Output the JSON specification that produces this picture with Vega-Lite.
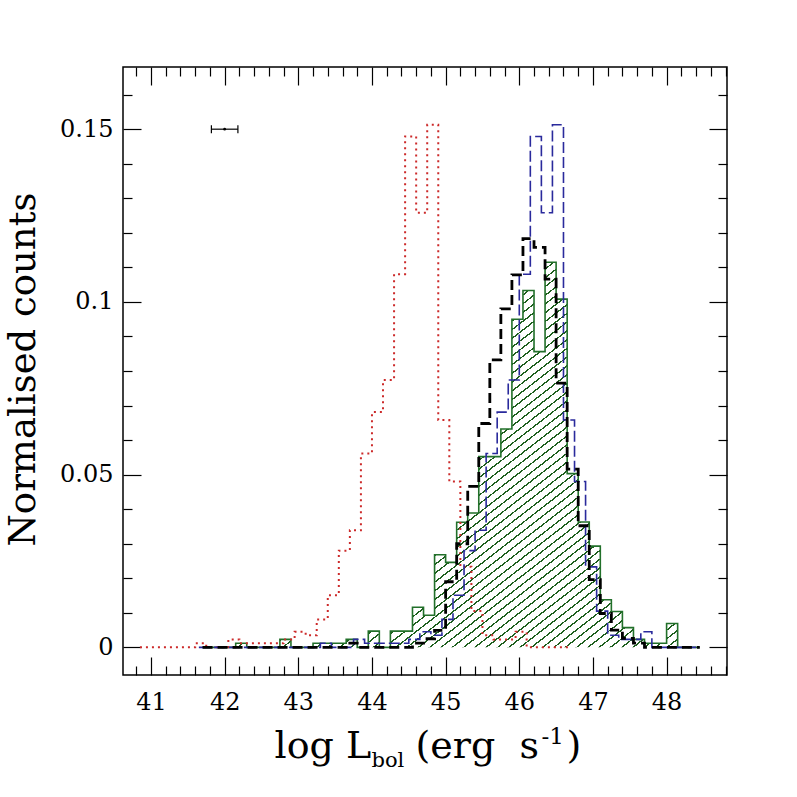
{
  "$schema": "https://vega.github.io/schema/vega-lite/v6.json",
  "width": 604,
  "height": 608,
  "autosize": "none",
  "padding": {"left": 123, "top": 67, "right": 70, "bottom": 122},
  "background": "white",
  "config": {
    "view": {"stroke": "black", "strokeWidth": 1.5},
    "axis": {"domain": false, "grid": false, "labelFont": "DejaVu Serif", "titleFont": "DejaVu Serif", "labelColor": "black", "titleColor": "black", "titleFontWeight": "normal", "tickColor": "black", "tickWidth": 1.2, "labelFlush": false, "labelOverlap": false}
  },
  "resolve": {"axis": {"x": "independent", "y": "independent"}},
  "datasets": {
    "green": [
      {"x": 41.70, "y": 0}, {"x": 41.85, "y": 0}, {"x": 42.00, "y": 0}, {"x": 42.15, "y": 0.0012}, {"x": 42.30, "y": 0}, {"x": 42.45, "y": 0}, {"x": 42.60, "y": 0}, {"x": 42.75, "y": 0.0023}, {"x": 42.90, "y": 0}, {"x": 43.05, "y": 0},
      {"x": 43.20, "y": 0.0012}, {"x": 43.35, "y": 0.0012}, {"x": 43.50, "y": 0.0012}, {"x": 43.65, "y": 0.0023}, {"x": 43.80, "y": 0}, {"x": 43.95, "y": 0.0047}, {"x": 44.10, "y": 0}, {"x": 44.25, "y": 0.0047}, {"x": 44.40, "y": 0.0047}, {"x": 44.55, "y": 0.0116},
      {"x": 44.70, "y": 0.0093}, {"x": 44.85, "y": 0.0268}, {"x": 45.00, "y": 0.0246}, {"x": 45.15, "y": 0.0362}, {"x": 45.30, "y": 0.0389}, {"x": 45.45, "y": 0.0552}, {"x": 45.60, "y": 0.0552}, {"x": 45.75, "y": 0.0632}, {"x": 45.90, "y": 0.0950}, {"x": 46.05, "y": 0.1033},
      {"x": 46.20, "y": 0.0856}, {"x": 46.35, "y": 0.1115}, {"x": 46.50, "y": 0.1008}, {"x": 46.65, "y": 0.0503}, {"x": 46.80, "y": 0.0363}, {"x": 46.95, "y": 0.0293}, {"x": 47.10, "y": 0.0138}, {"x": 47.25, "y": 0.0104}, {"x": 47.40, "y": 0.0057}, {"x": 47.55, "y": 0.0023},
      {"x": 47.70, "y": 0.0012}, {"x": 47.85, "y": 0.0012}, {"x": 48.00, "y": 0.0069}, {"x": 48.15, "y": 0}, {"x": 48.30, "y": 0}, {"x": 48.45, "y": 0}
    ],
    "black": [
      {"x": 41.70, "y": 0}, {"x": 41.85, "y": 0}, {"x": 42.00, "y": 0}, {"x": 42.15, "y": 0}, {"x": 42.30, "y": 0}, {"x": 42.45, "y": 0}, {"x": 42.60, "y": 0}, {"x": 42.75, "y": 0}, {"x": 42.90, "y": 0}, {"x": 43.05, "y": 0},
      {"x": 43.20, "y": 0}, {"x": 43.35, "y": 0}, {"x": 43.50, "y": 0}, {"x": 43.65, "y": 0.0012}, {"x": 43.80, "y": 0}, {"x": 43.95, "y": 0}, {"x": 44.10, "y": 0}, {"x": 44.25, "y": 0}, {"x": 44.40, "y": 0}, {"x": 44.55, "y": 0.0012},
      {"x": 44.70, "y": 0.0025}, {"x": 44.85, "y": 0.0049}, {"x": 45.00, "y": 0.0190}, {"x": 45.15, "y": 0.0300}, {"x": 45.30, "y": 0.0466}, {"x": 45.45, "y": 0.0648}, {"x": 45.60, "y": 0.0832}, {"x": 45.75, "y": 0.0980}, {"x": 45.90, "y": 0.1078}, {"x": 46.05, "y": 0.1183},
      {"x": 46.20, "y": 0.1158}, {"x": 46.35, "y": 0.1066}, {"x": 46.50, "y": 0.0765}, {"x": 46.65, "y": 0.0516}, {"x": 46.80, "y": 0.0352}, {"x": 46.95, "y": 0.0196}, {"x": 47.10, "y": 0.0098}, {"x": 47.25, "y": 0.0050}, {"x": 47.40, "y": 0.0026}, {"x": 47.55, "y": 0.0012},
      {"x": 47.70, "y": 0}, {"x": 47.85, "y": 0}, {"x": 48.00, "y": 0}, {"x": 48.15, "y": 0}, {"x": 48.30, "y": 0}, {"x": 48.45, "y": 0}
    ],
    "blue": [
      {"x": 41.65, "y": 0}, {"x": 41.80, "y": 0}, {"x": 41.95, "y": 0}, {"x": 42.10, "y": 0}, {"x": 42.25, "y": 0}, {"x": 42.40, "y": 0}, {"x": 42.55, "y": 0}, {"x": 42.70, "y": 0}, {"x": 42.85, "y": 0}, {"x": 43.00, "y": 0},
      {"x": 43.15, "y": 0}, {"x": 43.30, "y": 0.0012}, {"x": 43.45, "y": 0}, {"x": 43.60, "y": 0}, {"x": 43.75, "y": 0.0023}, {"x": 43.90, "y": 0.0012}, {"x": 44.05, "y": 0.0012}, {"x": 44.20, "y": 0.0012}, {"x": 44.35, "y": 0.0012}, {"x": 44.50, "y": 0.0023},
      {"x": 44.65, "y": 0.0045}, {"x": 44.80, "y": 0.0035}, {"x": 44.95, "y": 0.0081}, {"x": 45.10, "y": 0.0151}, {"x": 45.25, "y": 0.0280}, {"x": 45.40, "y": 0.0339}, {"x": 45.55, "y": 0.0561}, {"x": 45.70, "y": 0.0681}, {"x": 45.85, "y": 0.0774}, {"x": 46.00, "y": 0.1080},
      {"x": 46.15, "y": 0.1479}, {"x": 46.30, "y": 0.1258}, {"x": 46.45, "y": 0.1513}, {"x": 46.60, "y": 0.0658}, {"x": 46.75, "y": 0.0480}, {"x": 46.90, "y": 0.0233}, {"x": 47.05, "y": 0.0105}, {"x": 47.20, "y": 0.0035}, {"x": 47.35, "y": 0.0023}, {"x": 47.50, "y": 0.0023},
      {"x": 47.65, "y": 0.0045}, {"x": 47.80, "y": 0}, {"x": 47.95, "y": 0}, {"x": 48.10, "y": 0}, {"x": 48.25, "y": 0}, {"x": 48.40, "y": 0}
    ],
    "red": [
      {"x": 40.85, "y": 0}, {"x": 41.00, "y": 0}, {"x": 41.15, "y": 0}, {"x": 41.30, "y": 0},
      {"x": 41.45, "y": 0}, {"x": 41.60, "y": 0.0012}, {"x": 41.75, "y": 0}, {"x": 41.90, "y": 0}, {"x": 42.05, "y": 0.0023}, {"x": 42.20, "y": 0.0012}, {"x": 42.35, "y": 0.0012}, {"x": 42.50, "y": 0.0012}, {"x": 42.65, "y": 0.0012}, {"x": 42.80, "y": 0.0023},
      {"x": 42.95, "y": 0.0045}, {"x": 43.10, "y": 0.0035}, {"x": 43.25, "y": 0.0081}, {"x": 43.40, "y": 0.0151}, {"x": 43.55, "y": 0.0280}, {"x": 43.70, "y": 0.0339}, {"x": 43.85, "y": 0.0561}, {"x": 44.00, "y": 0.0681}, {"x": 44.15, "y": 0.0774}, {"x": 44.30, "y": 0.1080},
      {"x": 44.45, "y": 0.1479}, {"x": 44.60, "y": 0.1258}, {"x": 44.75, "y": 0.1513}, {"x": 44.90, "y": 0.0658}, {"x": 45.05, "y": 0.0480}, {"x": 45.20, "y": 0.0233}, {"x": 45.35, "y": 0.0105}, {"x": 45.50, "y": 0.0035}, {"x": 45.65, "y": 0.0023}, {"x": 45.80, "y": 0.0023},
      {"x": 45.95, "y": 0.0045}, {"x": 46.10, "y": 0}, {"x": 46.25, "y": 0}, {"x": 46.40, "y": 0}, {"x": 46.55, "y": 0}, {"x": 46.70, "y": 0}
    ],
    "err": [{"x": 42.0, "lo": 41.82, "hi": 42.18, "y": 0.15}]
  },
  "layer": [
    {
      "data": {"name": "green"},
      "mark": {"type": "area", "interpolate": "step-after", "clip": true, "fillOpacity": 1,
        "fill": {"gradient": "linear", "x1": 0, "y1": 0, "x2": 1, "y2": 1, "stops": [
          {"offset": 0, "color": "white"},
          {"offset": 0.0114, "color": "white"}, {"offset": 0.0114, "color": "#1e5f1e"}, {"offset": 0.0136, "color": "#1e5f1e"}, {"offset": 0.0136, "color": "white"},
          {"offset": 0.0227, "color": "white"}, {"offset": 0.0227, "color": "#1e5f1e"}, {"offset": 0.0249, "color": "#1e5f1e"}, {"offset": 0.0249, "color": "white"},
          {"offset": 0.0341, "color": "white"}, {"offset": 0.0341, "color": "#1e5f1e"}, {"offset": 0.0363, "color": "#1e5f1e"}, {"offset": 0.0363, "color": "white"},
          {"offset": 0.0455, "color": "white"}, {"offset": 0.0455, "color": "#1e5f1e"}, {"offset": 0.0477, "color": "#1e5f1e"}, {"offset": 0.0477, "color": "white"},
          {"offset": 0.0568, "color": "white"}, {"offset": 0.0568, "color": "#1e5f1e"}, {"offset": 0.0590, "color": "#1e5f1e"}, {"offset": 0.0590, "color": "white"},
          {"offset": 0.0682, "color": "white"}, {"offset": 0.0682, "color": "#1e5f1e"}, {"offset": 0.0704, "color": "#1e5f1e"}, {"offset": 0.0704, "color": "white"},
          {"offset": 0.0795, "color": "white"}, {"offset": 0.0795, "color": "#1e5f1e"}, {"offset": 0.0817, "color": "#1e5f1e"}, {"offset": 0.0817, "color": "white"},
          {"offset": 0.0909, "color": "white"}, {"offset": 0.0909, "color": "#1e5f1e"}, {"offset": 0.0931, "color": "#1e5f1e"}, {"offset": 0.0931, "color": "white"},
          {"offset": 0.1023, "color": "white"}, {"offset": 0.1023, "color": "#1e5f1e"}, {"offset": 0.1045, "color": "#1e5f1e"}, {"offset": 0.1045, "color": "white"},
          {"offset": 0.1136, "color": "white"}, {"offset": 0.1136, "color": "#1e5f1e"}, {"offset": 0.1158, "color": "#1e5f1e"}, {"offset": 0.1158, "color": "white"},
          {"offset": 0.1250, "color": "white"}, {"offset": 0.1250, "color": "#1e5f1e"}, {"offset": 0.1272, "color": "#1e5f1e"}, {"offset": 0.1272, "color": "white"},
          {"offset": 0.1364, "color": "white"}, {"offset": 0.1364, "color": "#1e5f1e"}, {"offset": 0.1386, "color": "#1e5f1e"}, {"offset": 0.1386, "color": "white"},
          {"offset": 0.1477, "color": "white"}, {"offset": 0.1477, "color": "#1e5f1e"}, {"offset": 0.1499, "color": "#1e5f1e"}, {"offset": 0.1499, "color": "white"},
          {"offset": 0.1591, "color": "white"}, {"offset": 0.1591, "color": "#1e5f1e"}, {"offset": 0.1613, "color": "#1e5f1e"}, {"offset": 0.1613, "color": "white"},
          {"offset": 0.1705, "color": "white"}, {"offset": 0.1705, "color": "#1e5f1e"}, {"offset": 0.1727, "color": "#1e5f1e"}, {"offset": 0.1727, "color": "white"},
          {"offset": 0.1818, "color": "white"}, {"offset": 0.1818, "color": "#1e5f1e"}, {"offset": 0.1840, "color": "#1e5f1e"}, {"offset": 0.1840, "color": "white"},
          {"offset": 0.1932, "color": "white"}, {"offset": 0.1932, "color": "#1e5f1e"}, {"offset": 0.1954, "color": "#1e5f1e"}, {"offset": 0.1954, "color": "white"},
          {"offset": 0.2045, "color": "white"}, {"offset": 0.2045, "color": "#1e5f1e"}, {"offset": 0.2067, "color": "#1e5f1e"}, {"offset": 0.2067, "color": "white"},
          {"offset": 0.2159, "color": "white"}, {"offset": 0.2159, "color": "#1e5f1e"}, {"offset": 0.2181, "color": "#1e5f1e"}, {"offset": 0.2181, "color": "white"},
          {"offset": 0.2273, "color": "white"}, {"offset": 0.2273, "color": "#1e5f1e"}, {"offset": 0.2295, "color": "#1e5f1e"}, {"offset": 0.2295, "color": "white"},
          {"offset": 0.2386, "color": "white"}, {"offset": 0.2386, "color": "#1e5f1e"}, {"offset": 0.2408, "color": "#1e5f1e"}, {"offset": 0.2408, "color": "white"},
          {"offset": 0.2500, "color": "white"}, {"offset": 0.2500, "color": "#1e5f1e"}, {"offset": 0.2522, "color": "#1e5f1e"}, {"offset": 0.2522, "color": "white"},
          {"offset": 0.2614, "color": "white"}, {"offset": 0.2614, "color": "#1e5f1e"}, {"offset": 0.2636, "color": "#1e5f1e"}, {"offset": 0.2636, "color": "white"},
          {"offset": 0.2727, "color": "white"}, {"offset": 0.2727, "color": "#1e5f1e"}, {"offset": 0.2749, "color": "#1e5f1e"}, {"offset": 0.2749, "color": "white"},
          {"offset": 0.2841, "color": "white"}, {"offset": 0.2841, "color": "#1e5f1e"}, {"offset": 0.2863, "color": "#1e5f1e"}, {"offset": 0.2863, "color": "white"},
          {"offset": 0.2955, "color": "white"}, {"offset": 0.2955, "color": "#1e5f1e"}, {"offset": 0.2977, "color": "#1e5f1e"}, {"offset": 0.2977, "color": "white"},
          {"offset": 0.3068, "color": "white"}, {"offset": 0.3068, "color": "#1e5f1e"}, {"offset": 0.3090, "color": "#1e5f1e"}, {"offset": 0.3090, "color": "white"},
          {"offset": 0.3182, "color": "white"}, {"offset": 0.3182, "color": "#1e5f1e"}, {"offset": 0.3204, "color": "#1e5f1e"}, {"offset": 0.3204, "color": "white"},
          {"offset": 0.3295, "color": "white"}, {"offset": 0.3295, "color": "#1e5f1e"}, {"offset": 0.3317, "color": "#1e5f1e"}, {"offset": 0.3317, "color": "white"},
          {"offset": 0.3409, "color": "white"}, {"offset": 0.3409, "color": "#1e5f1e"}, {"offset": 0.3431, "color": "#1e5f1e"}, {"offset": 0.3431, "color": "white"},
          {"offset": 0.3523, "color": "white"}, {"offset": 0.3523, "color": "#1e5f1e"}, {"offset": 0.3545, "color": "#1e5f1e"}, {"offset": 0.3545, "color": "white"},
          {"offset": 0.3636, "color": "white"}, {"offset": 0.3636, "color": "#1e5f1e"}, {"offset": 0.3658, "color": "#1e5f1e"}, {"offset": 0.3658, "color": "white"},
          {"offset": 0.3750, "color": "white"}, {"offset": 0.3750, "color": "#1e5f1e"}, {"offset": 0.3772, "color": "#1e5f1e"}, {"offset": 0.3772, "color": "white"},
          {"offset": 0.3864, "color": "white"}, {"offset": 0.3864, "color": "#1e5f1e"}, {"offset": 0.3886, "color": "#1e5f1e"}, {"offset": 0.3886, "color": "white"},
          {"offset": 0.3977, "color": "white"}, {"offset": 0.3977, "color": "#1e5f1e"}, {"offset": 0.3999, "color": "#1e5f1e"}, {"offset": 0.3999, "color": "white"},
          {"offset": 0.4091, "color": "white"}, {"offset": 0.4091, "color": "#1e5f1e"}, {"offset": 0.4113, "color": "#1e5f1e"}, {"offset": 0.4113, "color": "white"},
          {"offset": 0.4205, "color": "white"}, {"offset": 0.4205, "color": "#1e5f1e"}, {"offset": 0.4227, "color": "#1e5f1e"}, {"offset": 0.4227, "color": "white"},
          {"offset": 0.4318, "color": "white"}, {"offset": 0.4318, "color": "#1e5f1e"}, {"offset": 0.4340, "color": "#1e5f1e"}, {"offset": 0.4340, "color": "white"},
          {"offset": 0.4432, "color": "white"}, {"offset": 0.4432, "color": "#1e5f1e"}, {"offset": 0.4454, "color": "#1e5f1e"}, {"offset": 0.4454, "color": "white"},
          {"offset": 0.4545, "color": "white"}, {"offset": 0.4545, "color": "#1e5f1e"}, {"offset": 0.4567, "color": "#1e5f1e"}, {"offset": 0.4567, "color": "white"},
          {"offset": 0.4659, "color": "white"}, {"offset": 0.4659, "color": "#1e5f1e"}, {"offset": 0.4681, "color": "#1e5f1e"}, {"offset": 0.4681, "color": "white"},
          {"offset": 0.4773, "color": "white"}, {"offset": 0.4773, "color": "#1e5f1e"}, {"offset": 0.4795, "color": "#1e5f1e"}, {"offset": 0.4795, "color": "white"},
          {"offset": 0.4886, "color": "white"}, {"offset": 0.4886, "color": "#1e5f1e"}, {"offset": 0.4908, "color": "#1e5f1e"}, {"offset": 0.4908, "color": "white"},
          {"offset": 0.5000, "color": "white"}, {"offset": 0.5000, "color": "#1e5f1e"}, {"offset": 0.5022, "color": "#1e5f1e"}, {"offset": 0.5022, "color": "white"},
          {"offset": 0.5114, "color": "white"}, {"offset": 0.5114, "color": "#1e5f1e"}, {"offset": 0.5136, "color": "#1e5f1e"}, {"offset": 0.5136, "color": "white"},
          {"offset": 0.5227, "color": "white"}, {"offset": 0.5227, "color": "#1e5f1e"}, {"offset": 0.5249, "color": "#1e5f1e"}, {"offset": 0.5249, "color": "white"},
          {"offset": 0.5341, "color": "white"}, {"offset": 0.5341, "color": "#1e5f1e"}, {"offset": 0.5363, "color": "#1e5f1e"}, {"offset": 0.5363, "color": "white"},
          {"offset": 0.5455, "color": "white"}, {"offset": 0.5455, "color": "#1e5f1e"}, {"offset": 0.5477, "color": "#1e5f1e"}, {"offset": 0.5477, "color": "white"},
          {"offset": 0.5568, "color": "white"}, {"offset": 0.5568, "color": "#1e5f1e"}, {"offset": 0.5590, "color": "#1e5f1e"}, {"offset": 0.5590, "color": "white"},
          {"offset": 0.5682, "color": "white"}, {"offset": 0.5682, "color": "#1e5f1e"}, {"offset": 0.5704, "color": "#1e5f1e"}, {"offset": 0.5704, "color": "white"},
          {"offset": 0.5795, "color": "white"}, {"offset": 0.5795, "color": "#1e5f1e"}, {"offset": 0.5817, "color": "#1e5f1e"}, {"offset": 0.5817, "color": "white"},
          {"offset": 0.5909, "color": "white"}, {"offset": 0.5909, "color": "#1e5f1e"}, {"offset": 0.5931, "color": "#1e5f1e"}, {"offset": 0.5931, "color": "white"},
          {"offset": 0.6023, "color": "white"}, {"offset": 0.6023, "color": "#1e5f1e"}, {"offset": 0.6045, "color": "#1e5f1e"}, {"offset": 0.6045, "color": "white"},
          {"offset": 0.6136, "color": "white"}, {"offset": 0.6136, "color": "#1e5f1e"}, {"offset": 0.6158, "color": "#1e5f1e"}, {"offset": 0.6158, "color": "white"},
          {"offset": 0.6250, "color": "white"}, {"offset": 0.6250, "color": "#1e5f1e"}, {"offset": 0.6272, "color": "#1e5f1e"}, {"offset": 0.6272, "color": "white"},
          {"offset": 0.6364, "color": "white"}, {"offset": 0.6364, "color": "#1e5f1e"}, {"offset": 0.6386, "color": "#1e5f1e"}, {"offset": 0.6386, "color": "white"},
          {"offset": 0.6477, "color": "white"}, {"offset": 0.6477, "color": "#1e5f1e"}, {"offset": 0.6499, "color": "#1e5f1e"}, {"offset": 0.6499, "color": "white"},
          {"offset": 0.6591, "color": "white"}, {"offset": 0.6591, "color": "#1e5f1e"}, {"offset": 0.6613, "color": "#1e5f1e"}, {"offset": 0.6613, "color": "white"},
          {"offset": 0.6705, "color": "white"}, {"offset": 0.6705, "color": "#1e5f1e"}, {"offset": 0.6727, "color": "#1e5f1e"}, {"offset": 0.6727, "color": "white"},
          {"offset": 0.6818, "color": "white"}, {"offset": 0.6818, "color": "#1e5f1e"}, {"offset": 0.6840, "color": "#1e5f1e"}, {"offset": 0.6840, "color": "white"},
          {"offset": 0.6932, "color": "white"}, {"offset": 0.6932, "color": "#1e5f1e"}, {"offset": 0.6954, "color": "#1e5f1e"}, {"offset": 0.6954, "color": "white"},
          {"offset": 0.7045, "color": "white"}, {"offset": 0.7045, "color": "#1e5f1e"}, {"offset": 0.7067, "color": "#1e5f1e"}, {"offset": 0.7067, "color": "white"},
          {"offset": 0.7159, "color": "white"}, {"offset": 0.7159, "color": "#1e5f1e"}, {"offset": 0.7181, "color": "#1e5f1e"}, {"offset": 0.7181, "color": "white"},
          {"offset": 0.7273, "color": "white"}, {"offset": 0.7273, "color": "#1e5f1e"}, {"offset": 0.7295, "color": "#1e5f1e"}, {"offset": 0.7295, "color": "white"},
          {"offset": 0.7386, "color": "white"}, {"offset": 0.7386, "color": "#1e5f1e"}, {"offset": 0.7408, "color": "#1e5f1e"}, {"offset": 0.7408, "color": "white"},
          {"offset": 0.7500, "color": "white"}, {"offset": 0.7500, "color": "#1e5f1e"}, {"offset": 0.7522, "color": "#1e5f1e"}, {"offset": 0.7522, "color": "white"},
          {"offset": 0.7614, "color": "white"}, {"offset": 0.7614, "color": "#1e5f1e"}, {"offset": 0.7636, "color": "#1e5f1e"}, {"offset": 0.7636, "color": "white"},
          {"offset": 0.7727, "color": "white"}, {"offset": 0.7727, "color": "#1e5f1e"}, {"offset": 0.7749, "color": "#1e5f1e"}, {"offset": 0.7749, "color": "white"},
          {"offset": 0.7841, "color": "white"}, {"offset": 0.7841, "color": "#1e5f1e"}, {"offset": 0.7863, "color": "#1e5f1e"}, {"offset": 0.7863, "color": "white"},
          {"offset": 0.7955, "color": "white"}, {"offset": 0.7955, "color": "#1e5f1e"}, {"offset": 0.7977, "color": "#1e5f1e"}, {"offset": 0.7977, "color": "white"},
          {"offset": 0.8068, "color": "white"}, {"offset": 0.8068, "color": "#1e5f1e"}, {"offset": 0.8090, "color": "#1e5f1e"}, {"offset": 0.8090, "color": "white"},
          {"offset": 0.8182, "color": "white"}, {"offset": 0.8182, "color": "#1e5f1e"}, {"offset": 0.8204, "color": "#1e5f1e"}, {"offset": 0.8204, "color": "white"},
          {"offset": 0.8295, "color": "white"}, {"offset": 0.8295, "color": "#1e5f1e"}, {"offset": 0.8317, "color": "#1e5f1e"}, {"offset": 0.8317, "color": "white"},
          {"offset": 0.8409, "color": "white"}, {"offset": 0.8409, "color": "#1e5f1e"}, {"offset": 0.8431, "color": "#1e5f1e"}, {"offset": 0.8431, "color": "white"},
          {"offset": 0.8523, "color": "white"}, {"offset": 0.8523, "color": "#1e5f1e"}, {"offset": 0.8545, "color": "#1e5f1e"}, {"offset": 0.8545, "color": "white"},
          {"offset": 0.8636, "color": "white"}, {"offset": 0.8636, "color": "#1e5f1e"}, {"offset": 0.8658, "color": "#1e5f1e"}, {"offset": 0.8658, "color": "white"},
          {"offset": 0.8750, "color": "white"}, {"offset": 0.8750, "color": "#1e5f1e"}, {"offset": 0.8772, "color": "#1e5f1e"}, {"offset": 0.8772, "color": "white"},
          {"offset": 0.8864, "color": "white"}, {"offset": 0.8864, "color": "#1e5f1e"}, {"offset": 0.8886, "color": "#1e5f1e"}, {"offset": 0.8886, "color": "white"},
          {"offset": 0.8977, "color": "white"}, {"offset": 0.8977, "color": "#1e5f1e"}, {"offset": 0.8999, "color": "#1e5f1e"}, {"offset": 0.8999, "color": "white"},
          {"offset": 0.9091, "color": "white"}, {"offset": 0.9091, "color": "#1e5f1e"}, {"offset": 0.9113, "color": "#1e5f1e"}, {"offset": 0.9113, "color": "white"},
          {"offset": 0.9205, "color": "white"}, {"offset": 0.9205, "color": "#1e5f1e"}, {"offset": 0.9227, "color": "#1e5f1e"}, {"offset": 0.9227, "color": "white"},
          {"offset": 0.9318, "color": "white"}, {"offset": 0.9318, "color": "#1e5f1e"}, {"offset": 0.9340, "color": "#1e5f1e"}, {"offset": 0.9340, "color": "white"},
          {"offset": 0.9432, "color": "white"}, {"offset": 0.9432, "color": "#1e5f1e"}, {"offset": 0.9454, "color": "#1e5f1e"}, {"offset": 0.9454, "color": "white"},
          {"offset": 0.9545, "color": "white"}, {"offset": 0.9545, "color": "#1e5f1e"}, {"offset": 0.9567, "color": "#1e5f1e"}, {"offset": 0.9567, "color": "white"},
          {"offset": 0.9659, "color": "white"}, {"offset": 0.9659, "color": "#1e5f1e"}, {"offset": 0.9681, "color": "#1e5f1e"}, {"offset": 0.9681, "color": "white"},
          {"offset": 0.9773, "color": "white"}, {"offset": 0.9773, "color": "#1e5f1e"}, {"offset": 0.9795, "color": "#1e5f1e"}, {"offset": 0.9795, "color": "white"},
          {"offset": 0.9886, "color": "white"}, {"offset": 0.9886, "color": "#1e5f1e"}, {"offset": 0.9908, "color": "#1e5f1e"}, {"offset": 0.9908, "color": "white"},
          {"offset": 1, "color": "white"}
        ]}},
      "encoding": {
        "x": {"field": "x", "type": "quantitative", "scale": {"domain": [40.62, 48.82], "nice": false, "zero": false},
          "axis": {"orient": "top", "values": [40.8, 41.2, 41.4, 41.6, 41.8, 42.2, 42.4, 42.6, 42.8, 43.2, 43.4, 43.6, 43.8, 44.2, 44.4, 44.6, 44.8, 45.2, 45.4, 45.6, 45.8, 46.2, 46.4, 46.6, 46.8, 47.2, 47.4, 47.6, 47.8, 48.2, 48.4, 48.6, 48.8], "tickSize": -9, "labels": false, "title": "-1", "titleFontSize": 23, "titleAlign": "left", "titleBaseline": "alphabetic", "titleX": 418, "titleY": 676}},
        "y": {"field": "y", "type": "quantitative", "scale": {"domain": [-0.008, 0.168], "nice": false, "zero": false},
          "axis": {"orient": "right", "values": [0.01, 0.02, 0.03, 0.04, 0.06, 0.07, 0.08, 0.09, 0.11, 0.12, 0.13, 0.14, 0.16], "tickSize": -9, "labels": false, "title": null}},
        "y2": {"datum": 0}
      }
    },
    {
      "data": {"name": "green"},
      "mark": {"type": "line", "interpolate": "step-after", "clip": true, "color": "#22702a", "strokeWidth": 1.6},
      "encoding": {
        "x": {"field": "x", "type": "quantitative", "scale": {"domain": [40.62, 48.82], "nice": false, "zero": false},
          "axis": {"orient": "bottom", "ticks": false, "labels": false, "title": ")", "titleFontSize": 38, "titleAlign": "left", "titleBaseline": "alphabetic", "titleX": 443, "titleY": 82}},
        "y": {"field": "y", "type": "quantitative", "scale": {"domain": [-0.008, 0.168], "nice": false, "zero": false}, "axis": null}
      }
    },
    {
      "data": {"name": "red"},
      "mark": {"type": "line", "interpolate": "step-after", "clip": true, "color": "#cc2a2a", "strokeWidth": 2, "strokeDash": [2, 4]},
      "encoding": {
        "x": {"field": "x", "type": "quantitative", "scale": {"domain": [40.62, 48.82], "nice": false, "zero": false},
          "axis": {"orient": "bottom", "values": [41, 42, 43, 44, 45, 46, 47, 48], "tickSize": -18, "format": "d", "labelFontSize": 24, "labelPadding": 33, "title": "log L", "titleFontSize": 38, "titleAlign": "left", "titleBaseline": "alphabetic", "titleX": 151, "titleY": 82}},
        "y": {"field": "y", "type": "quantitative", "scale": {"domain": [-0.008, 0.168], "nice": false, "zero": false},
          "axis": {"orient": "left", "values": [0, 0.05, 0.1, 0.15], "tickSize": -18, "format": "~g", "labelFontSize": 24, "labelPadding": 28, "title": "Normalised counts", "titleFontSize": 37, "titleAngle": -90, "titleBaseline": "alphabetic", "titleAlign": "center", "titleX": -89, "titleY": 302}}
      }
    },
    {
      "data": {"name": "blue"},
      "mark": {"type": "line", "interpolate": "step-after", "clip": true, "color": "#2a2a9c", "strokeWidth": 1.6, "strokeDash": [11, 4]},
      "encoding": {
        "x": {"field": "x", "type": "quantitative", "scale": {"domain": [40.62, 48.82], "nice": false, "zero": false},
          "axis": {"orient": "bottom", "values": [40.8, 41.2, 41.4, 41.6, 41.8, 42.2, 42.4, 42.6, 42.8, 43.2, 43.4, 43.6, 43.8, 44.2, 44.4, 44.6, 44.8, 45.2, 45.4, 45.6, 45.8, 46.2, 46.4, 46.6, 46.8, 47.2, 47.4, 47.6, 47.8, 48.2, 48.4, 48.6, 48.8], "tickSize": -9, "labels": false, "title": "bol", "titleFontSize": 21, "titleAlign": "left", "titleBaseline": "alphabetic", "titleX": 248, "titleY": 91}},
        "y": {"field": "y", "type": "quantitative", "scale": {"domain": [-0.008, 0.168], "nice": false, "zero": false},
          "axis": {"orient": "left", "values": [0.01, 0.02, 0.03, 0.04, 0.06, 0.07, 0.08, 0.09, 0.11, 0.12, 0.13, 0.14, 0.16], "tickSize": -9, "labels": false, "title": null}}
      }
    },
    {
      "data": {"name": "black"},
      "mark": {"type": "line", "interpolate": "step-after", "clip": true, "color": "black", "strokeWidth": 2.8, "strokeDash": [10, 5]},
      "encoding": {
        "x": {"field": "x", "type": "quantitative", "scale": {"domain": [40.62, 48.82], "nice": false, "zero": false},
          "axis": {"orient": "top", "values": [41, 42, 43, 44, 45, 46, 47, 48], "tickSize": -18, "labels": false, "title": "(erg\u00a0 s", "titleFontSize": 38, "titleAlign": "left", "titleBaseline": "alphabetic", "titleX": 292, "titleY": 690}},
        "y": {"field": "y", "type": "quantitative", "scale": {"domain": [-0.008, 0.168], "nice": false, "zero": false},
          "axis": {"orient": "right", "values": [0, 0.05, 0.1, 0.15], "tickSize": -18, "labels": false, "title": null}}
      }
    },
    {
      "data": {"name": "err"},
      "mark": {"type": "rule", "color": "black", "strokeWidth": 1.2},
      "encoding": {
        "x": {"field": "lo", "type": "quantitative", "scale": {"domain": [40.62, 48.82], "nice": false, "zero": false}, "axis": null},
        "x2": {"field": "hi"},
        "y": {"field": "y", "type": "quantitative", "scale": {"domain": [-0.008, 0.168], "nice": false, "zero": false}, "axis": null}
      }
    },
    {
      "data": {"name": "err"},
      "mark": {"type": "tick", "orient": "vertical", "size": 8, "thickness": 1.2, "color": "black", "opacity": 1},
      "encoding": {
        "x": {"field": "lo", "type": "quantitative", "scale": {"domain": [40.62, 48.82], "nice": false, "zero": false}, "axis": null},
        "y": {"field": "y", "type": "quantitative", "scale": {"domain": [-0.008, 0.168], "nice": false, "zero": false}, "axis": null}
      }
    },
    {
      "data": {"name": "err"},
      "mark": {"type": "tick", "orient": "vertical", "size": 8, "thickness": 1.2, "color": "black", "opacity": 1},
      "encoding": {
        "x": {"field": "hi", "type": "quantitative", "scale": {"domain": [40.62, 48.82], "nice": false, "zero": false}, "axis": null},
        "y": {"field": "y", "type": "quantitative", "scale": {"domain": [-0.008, 0.168], "nice": false, "zero": false}, "axis": null}
      }
    },
    {
      "data": {"name": "err"},
      "mark": {"type": "point", "filled": true, "size": 8, "color": "black", "opacity": 1},
      "encoding": {
        "x": {"field": "x", "type": "quantitative", "scale": {"domain": [40.62, 48.82], "nice": false, "zero": false}, "axis": null},
        "y": {"field": "y", "type": "quantitative", "scale": {"domain": [-0.008, 0.168], "nice": false, "zero": false}, "axis": null}
      }
    }
  ]
}
